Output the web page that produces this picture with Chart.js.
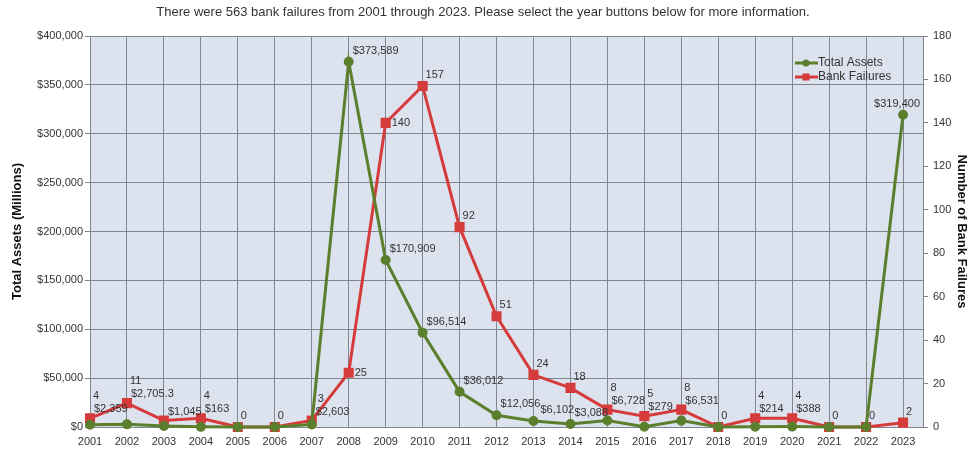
<!DOCTYPE html>
<html>
<head>
<meta charset="utf-8">
<script src="https://cdn.jsdelivr.net/npm/chart.js@4.4.1/dist/chart.umd.min.js"></script>
<style>
html,body{margin:0;padding:0;background:#fff;}
#wrap{width:972px;height:451px;position:relative;}
</style>
</head>
<body>
<div id="wrap"><canvas id="c" width="972" height="451"></canvas></div>
<script>
// ---- data ----
const titleText = 'There were 563 bank failures from 2001 through 2023. Please select the year buttons below for more information.';
const years = ['2001','2002','2003','2004','2005','2006','2007','2008','2009','2010','2011','2012','2013','2014','2015','2016','2017','2018','2019','2020','2021','2022','2023'];
const totalAssets = [2359, 2705.3, 1045, 163, 0, 0, 2603, 373589, 170909, 96514, 36012, 12056, 6102, 3088, 6728, 279, 6531, 0, 214, 388, 0, 0, 319400];
const bankFailures = [4, 11, 3, 4, 0, 0, 3, 25, 140, 157, 92, 51, 24, 18, 8, 5, 8, 0, 4, 4, 0, 0, 2];
const assetTicks = [0, 50000, 100000, 150000, 200000, 250000, 300000, 350000, 400000];
const failureTicks = [0, 20, 40, 60, 80, 100, 120, 140, 160, 180];
const seriesNames = ['Total Assets', 'Bank Failures'];
const axisTitles = ['Total Assets (Millions)', 'Number of Bank Failures'];

// ---- styles ----
const FONT = '"Liberation Sans", Arial, sans-serif';
const GREEN = '#5b7f2d';
const RED = '#d63b3b';
const GRID = '#80868f';
Chart.defaults.font.family = FONT;
Chart.defaults.font.size = 11;
Chart.defaults.color = '#333';

const fmtMoney = v => '$' + v.toLocaleString('en-US', {maximumFractionDigits: 1});

const bgPlugin = {
  id: 'bg',
  beforeDraw(chart) {
    const {ctx, chartArea: a} = chart;
    ctx.save();
    ctx.fillStyle = '#dde3ee';
    ctx.fillRect(a.left, a.top, a.right - a.left, a.bottom - a.top);
    ctx.restore();
  },
  afterDraw(chart) {
    const ctx = chart.ctx;
    ctx.save();
    ctx.font = '13px ' + FONT;
    ctx.fillStyle = '#333';
    ctx.textAlign = 'center';
    ctx.textBaseline = 'middle';
    ctx.fillText(titleText, 483, 12);
    // legend
    ctx.font = '12px ' + FONT;
    chart.data.datasets.forEach((d, i) => {
      const y = 63 + i * 14;
      ctx.strokeStyle = d.borderColor;
      ctx.lineWidth = 3;
      ctx.beginPath(); ctx.moveTo(795, y); ctx.lineTo(818, y); ctx.stroke();
      ctx.fillStyle = d.borderColor;
      if (d.pointStyle === 'rect') {
        ctx.fillRect(802.5, y - 3.5, 7, 7);
      } else {
        ctx.beginPath(); ctx.arc(806, y, 3.5, 0, Math.PI * 2); ctx.fill();
      }
      ctx.fillStyle = '#333';
      ctx.textAlign = 'left';
      ctx.fillText(d.label, 818, y);
    });
    ctx.restore();
  }
};

const labelPlugin = {
  id: 'pointLabels',
  afterDatasetsDraw(chart) {
    const ctx = chart.ctx, area = chart.chartArea;
    ctx.save();
    ctx.font = '11px ' + FONT;
    ctx.fillStyle = '#333';
    ctx.textBaseline = 'middle';
    ctx.textAlign = 'left';
    const H = 5;
    const mA = chart.getDatasetMeta(0).data, mF = chart.getDatasetMeta(1).data;
    const hitSeg = (r, segs) => segs.some(([x1, y1, x2, y2]) => {
      const n = Math.ceil(Math.hypot(x2 - x1, y2 - y1));
      for (let k = 0; k <= n; k++) {
        const x = x1 + (x2 - x1) * k / n, y = y1 + (y2 - y1) * k / n;
        if (x >= r.l - 1 && x <= r.r + 1 && y >= r.t - 1 && y <= r.b + 1) return true;
      }
      return false;
    });
    const ownSegs = (pts, i) => {
      const s = [];
      if (i > 0) s.push([pts[i-1].x, pts[i-1].y, pts[i].x, pts[i].y]);
      if (i < pts.length - 1) s.push([pts[i].x, pts[i].y, pts[i+1].x, pts[i+1].y]);
      return s;
    };
    const hitBox = (r, list) => list.some(o => r.l < o.r && r.r > o.l && r.t < o.b && r.b > o.t);
    const box = (l, cy, w) => {
      l = Math.max(area.left + 2, Math.min(l, area.right - 3 - w));
      return {l, r: l + w, t: cy - H, b: cy + H, cy};
    };
    const placed = [];
    const assetBoxes = [];
    // total assets labels
    totalAssets.forEach((v, i) => {
      if (!(v > 0)) return;
      const text = fmtMoney(v);
      const w = ctx.measureText(text).width;
      const gx = mA[i].x, gy = mA[i].y, ry = mF[i].y;
      const cy = (ry < gy && gy - ry < 25) ? ry - 9 : gy - 11;
      const segs = ownSegs(mA, i);
      let cands = [box(gx + 4, cy, w), box(gx + 1, cy, w), box(gx - 2, cy, w), box(gx + 7, cy, w)];
      let pick = cands.find(r => !hitBox(r, placed) && !hitSeg(r, segs));
      if (!pick) pick = cands.find(r => !hitBox(r, placed));
      if (!pick) return;
      placed.push(pick); assetBoxes.push(pick);
      ctx.fillText(text, pick.l, pick.cy);
    });
    // bank failure labels
    bankFailures.forEach((v, i) => {
      const text = String(v);
      const w = ctx.measureText(text).width;
      const x = mF[i].x, y = mF[i].y;
      const segs = ownSegs(mF, i);
      let r = box(x + 3, y - 11, w);
      if (hitSeg(r, segs)) r = box(x + 6, y, w);
      const blocker = assetBoxes.find(o => hitBox(r, [o]));
      if (blocker) r = box(r.l, blocker.t - 8, w);
      if (hitBox(r, placed)) return;
      placed.push(r);
      ctx.fillText(text, r.l, r.cy);
    });
    ctx.restore();
  }
};

const idx = years.map((_, i) => i);

new Chart(document.getElementById('c'), {
  type: 'line',
  data: {
    datasets: [
      {
        label: seriesNames[0],
        data: idx.map(i => ({x: i, y: totalAssets[i]})),
        yAxisID: 'y',
        borderColor: GREEN,
        backgroundColor: GREEN,
        borderWidth: 3,
        pointStyle: 'circle',
        pointRadius: 3.5,
        pointHoverRadius: 3.5,
        tension: 0,
        clip: false
      },
      {
        label: seriesNames[1],
        data: idx.map(i => ({x: i, y: bankFailures[i]})),
        yAxisID: 'y1',
        borderColor: RED,
        backgroundColor: RED,
        borderWidth: 3,
        pointStyle: 'rect',
        pointRadius: 5,
        pointHoverRadius: 5,
        tension: 0,
        clip: false
      }
    ]
  },
  options: {
    responsive: false,
    devicePixelRatio: 1,
    animation: false,
    events: [],
    layout: {padding: {top: 36, left: 0, right: 0, bottom: 0}},
    plugins: {legend: {display: false}, tooltip: {enabled: false}, title: {display: false}},
    scales: {
      x: {
        type: 'linear',
        min: 0,
        max: 22.54,
        afterBuildTicks: s => { s.ticks = idx.map(i => ({value: i})); },
        afterFit: s => { s.height = 24; },
        ticks: {callback: v => years[v], padding: 8, color: '#333', maxRotation: 0, autoSkip: false, font: {size: 11}},
        grid: {color: GRID, lineWidth: 1, drawTicks: false},
        border: {display: true, color: GRID}
      },
      y: {
        type: 'linear',
        position: 'left',
        min: 0,
        max: 400000,
        afterBuildTicks: s => { s.ticks = assetTicks.map(v => ({value: v})); },
        afterFit: s => { s.width = 90; },
        ticks: {callback: v => fmtMoney(v), padding: 2, color: '#333', font: {size: 11}},
        grid: {color: GRID, lineWidth: 1, drawTicks: true, tickLength: 5},
        border: {display: true, color: GRID},
        title: {display: true, text: axisTitles[0], font: {size: 13, weight: 'bold'}, color: '#111', padding: {top: 10, bottom: 0}}
      },
      y1: {
        type: 'linear',
        position: 'right',
        min: 0,
        max: 180,
        afterBuildTicks: s => { s.ticks = failureTicks.map(v => ({value: v})); },
        afterFit: s => { s.width = 49; },
        ticks: {padding: 5, color: '#333', font: {size: 11}},
        grid: {color: GRID, lineWidth: 1, drawOnChartArea: false, drawTicks: true, tickLength: 5},
        border: {display: true, color: GRID},
        title: {display: true, text: axisTitles[1], font: {size: 13, weight: 'bold'}, color: '#111', padding: {top: 3, bottom: 0}}
      }
    }
  },
  plugins: [bgPlugin, labelPlugin]
});
</script>
</body>
</html>
